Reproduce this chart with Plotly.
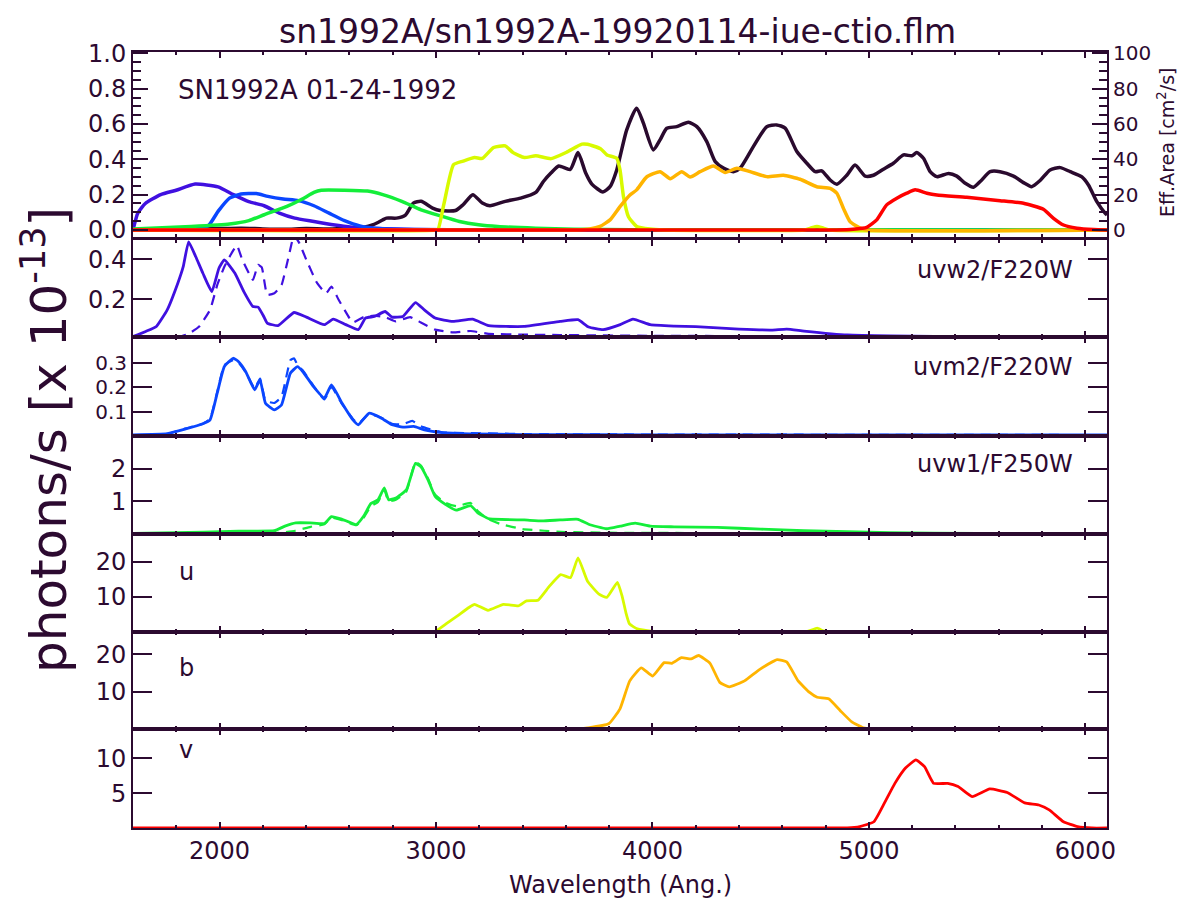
import plotly.graph_objects as go

# ---------------- data ----------------
# top panel: spectrum (scaled flux, left axis) and effective areas (cm^2, right axis)
spec_wl = [1600, 1700, 1800, 1900, 2000, 2100, 2200, 2300, 2400, 2500, 2600, 2666, 2710, 2754, 2771, 2817,
           2860, 2895, 2931, 2984, 3019, 3090, 3125, 3170, 3214, 3249, 3320, 3391, 3461, 3497, 3532, 3567,
           3620, 3656, 3691, 3720, 3771, 3804, 3835, 3881, 3927, 3958, 4004, 4035, 4066, 4112, 4166, 4205,
           4251, 4290, 4328, 4374, 4405, 4466, 4528, 4574, 4613, 4667, 4713, 4752, 4782, 4821, 4852, 4898,
           4936, 4983, 5021, 5067, 5113, 5160, 5198, 5221, 5252, 5283, 5314, 5368, 5406, 5445, 5483, 5514,
           5560, 5606, 5668, 5714, 5752, 5791, 5837, 5884, 5930, 5984, 6015, 6053, 6092, 6100]
spec_flux = [0.0, 0.002, 0.004, 0.006, 0.008, 0.01, 0.006, 0.004, 0.008, 0.006, 0.01, 0.015, 0.03, 0.057, 0.067,
             0.067, 0.086, 0.152, 0.162, 0.124, 0.11, 0.11, 0.143, 0.2, 0.152, 0.137, 0.162, 0.18, 0.213, 0.276,
             0.324, 0.362, 0.343, 0.438, 0.324, 0.26, 0.215, 0.245, 0.34, 0.567, 0.69, 0.605, 0.453, 0.51, 0.576,
             0.585, 0.61, 0.585, 0.50, 0.387, 0.35, 0.33, 0.35, 0.472, 0.585, 0.595, 0.577, 0.444, 0.378, 0.33,
             0.335, 0.283, 0.259, 0.31, 0.368, 0.305, 0.31, 0.344, 0.378, 0.425, 0.42, 0.438, 0.406, 0.33, 0.302,
             0.32, 0.305, 0.264, 0.242, 0.274, 0.33, 0.33, 0.305, 0.268, 0.245, 0.28, 0.34, 0.353, 0.33, 0.30,
             0.253, 0.16, 0.094, 0.085]

ea_uvw2_wl = [1600, 1622, 1657, 1728, 1799, 1887, 1993, 2064, 2135, 2206, 2276, 2347, 2436, 2524, 2612, 2718, 2900, 3200, 6100]
ea_uvw2 = [0, 9.5, 15, 20, 22.5, 26, 24.4, 20, 16, 13.7, 9.5, 6.7, 4.8, 2.9, 1.5, 0.8, 0.3, 0.1, 0]
ea_uvm2_wl = [1600, 1800, 1905, 1949, 1993, 2046, 2099, 2170, 2223, 2294, 2364, 2436, 2506, 2577, 2648, 2718, 2850, 3100, 6100]
ea_uvm2 = [0, 0.2, 1, 2.5, 10.5, 18, 20.4, 20.6, 19, 17.5, 16.6, 13.7, 9.5, 5.3, 2.3, 1.0, 0.3, 0, 0]
ea_uvw1_wl = [1600, 1869, 2046, 2135, 2206, 2311, 2382, 2436, 2470, 2577, 2683, 2754, 2842, 2931, 3019, 3108, 3197, 3285, 3461, 3638, 3900, 6100]
ea_uvw1 = [0.5, 2, 3.4, 5.3, 8.6, 13.3, 17.5, 21.3, 22.5, 22.5, 22, 20, 16.2, 11.4, 8, 4.8, 2.9, 1.9, 1.0, 0.4, 0.1, 0]
ea_u_wl = [1600, 3000, 3010, 3037, 3081, 3125, 3178, 3214, 3266, 3320, 3356, 3408, 3461, 3532, 3603, 3674, 3700, 3760,
           3790, 3835, 3850, 3866, 3889, 3927, 3989, 4050, 4700, 4730, 4760, 4790, 4820, 6100]
ea_u = [0, 0, 0.5, 15, 37, 39, 41, 40.5, 46.7, 47.6, 43.8, 41, 42, 40.4, 44, 48.6, 48.5, 46, 42.5, 40.6, 34, 19,
        7.5, 2, 0.5, 0, 0, 1, 2, 1, 0, 0]
ea_b_wl = [1600, 3650, 3710, 3758, 3804, 3850, 3896, 3927, 3973, 4035, 4082, 4135, 4174, 4220, 4282, 4336, 4390, 4451,
           4528, 4605, 4682, 4759, 4821, 4852, 4882, 4913, 4960, 4990, 6100]
ea_b = [0, 0, 0.5, 2, 5.7, 13.2, 19.8, 22.7, 30, 33, 29, 33, 30, 33, 36.2, 32.5, 35, 33, 30.2, 31, 28.7, 24.5, 23.6,
        20.8, 12.3, 4.7, 1, 0, 0]
ea_v_wl = [1600, 4850, 4928, 4990, 5036, 5082, 5129, 5175, 5214, 5268, 5314, 5452, 5606, 5714, 5806, 5853, 5899, 5961, 6038, 6100]
ea_v = [0, 0, 0.4, 1.5, 5.7, 14.2, 18, 20.8, 22.7, 20.8, 19.8, 18.5, 16.6, 15.1, 11.7, 6.6, 2.8, 1, 0.2, 0]

# photon rates per filter [x 1e-13] : solid = observed spectrum, dashed = comparison
uvw2_wl = [1600, 1659, 1708, 1758, 1807, 1832, 1857, 1890, 1923, 1964, 1997, 2022, 2071, 2112, 2154, 2178, 2204,
           2220, 2270, 2344, 2401, 2484, 2525, 2583, 2641, 2674, 2715, 2765, 2797, 2847, 2905, 2946, 2996, 3078,
           3169, 3243, 3408, 3573, 3656, 3705, 3772, 3851, 3910, 3990, 4100, 4200, 4400, 4550, 4620, 4700, 4900,
           5100, 5500, 6100]
uvw2_rate = [0.013, 0.038, 0.063, 0.146, 0.28, 0.363, 0.488, 0.413, 0.33, 0.238, 0.355, 0.397, 0.33, 0.238, 0.163,
             0.16, 0.113, 0.08, 0.067, 0.133, 0.11, 0.072, 0.10, 0.072, 0.047, 0.105, 0.113, 0.138, 0.11, 0.113,
             0.183, 0.146, 0.105, 0.088, 0.10, 0.067, 0.063, 0.088, 0.097, 0.06, 0.047, 0.072, 0.10, 0.072, 0.065,
             0.062, 0.05, 0.045, 0.05, 0.04, 0.02, 0.015, 0.012, 0.01]
uvw2_cmp_wl = [1800, 1857, 1906, 1956, 1989, 2022, 2055, 2080, 2104, 2154, 2178, 2195, 2220, 2253, 2286, 2319, 2344,
               2369, 2401, 2451, 2492, 2517, 2550, 2600, 2616, 2666, 2715, 2765, 2814, 2880, 2930, 2996, 3078, 3160,
               3243, 3408, 3573, 3738, 4000, 5000, 6100]
uvw2_cmp = [0.005, 0.026, 0.063, 0.146, 0.27, 0.363, 0.43, 0.47, 0.40, 0.297, 0.372, 0.36, 0.222, 0.23, 0.27, 0.413,
            0.52, 0.48, 0.397, 0.28, 0.23, 0.263, 0.197, 0.105, 0.083, 0.11, 0.117, 0.11, 0.088, 0.11, 0.083, 0.047,
            0.033, 0.04, 0.026, 0.022, 0.02, 0.018, 0.016, 0.013, 0.012]

uvm2_wl = [1600, 1758, 1840, 1923, 1956, 1989, 2022, 2063, 2088, 2121, 2162, 2187, 2212, 2253, 2286, 2327, 2360, 2385,
           2434, 2484, 2517, 2566, 2616, 2641, 2690, 2748, 2797, 2847, 2897, 2946, 3028, 3160, 3408, 4000, 6100]
uvm2_rate = [0.005, 0.01, 0.028, 0.05, 0.066, 0.175, 0.284, 0.318, 0.304, 0.263, 0.189, 0.23, 0.134, 0.107, 0.127,
             0.257, 0.284, 0.263, 0.202, 0.155, 0.209, 0.134, 0.066, 0.046, 0.093, 0.073, 0.046, 0.036, 0.039, 0.025,
             0.014, 0.009, 0.006, 0.005, 0.004]
uvm2_cmp_wl = [1600, 1758, 1840, 1923, 1956, 1989, 2022, 2063, 2088, 2121, 2162, 2187, 2212, 2253, 2286, 2327, 2344,
               2360, 2385, 2434, 2484, 2517, 2566, 2616, 2641, 2690, 2748, 2797, 2847, 2890, 2930, 3028, 3160, 3408,
               4000, 6100]
uvm2_cmp = [0.003, 0.008, 0.03, 0.05, 0.07, 0.18, 0.29, 0.31, 0.30, 0.26, 0.195, 0.235, 0.145, 0.135, 0.16, 0.31,
            0.318, 0.29, 0.268, 0.205, 0.15, 0.2, 0.13, 0.07, 0.05, 0.09, 0.075, 0.05, 0.048, 0.062, 0.04, 0.015,
            0.012, 0.008, 0.006, 0.004]

uvw1_wl = [1600, 1923, 2088, 2253, 2302, 2352, 2418, 2484, 2517, 2566, 2632, 2666, 2699, 2732, 2761, 2781, 2814, 2863,
           2905, 2930, 2963, 2996, 3045, 3094, 3160, 3193, 3243, 3408, 3490, 3573, 3656, 3705, 3788, 3851, 3920, 3990,
           4100, 4300, 4500, 4700, 4900, 5100, 5500, 6100]
uvw1_rate = [0.02, 0.06, 0.09, 0.10, 0.24, 0.34, 0.34, 0.32, 0.53, 0.45, 0.29, 0.55, 0.93, 1.05, 1.41, 1.05, 1.1,
             1.35, 2.16, 2.06, 1.66, 1.15, 0.9, 0.73, 0.87, 0.65, 0.47, 0.43, 0.40, 0.43, 0.45, 0.30, 0.16, 0.24,
             0.33, 0.24, 0.22, 0.2, 0.15, 0.1, 0.07, 0.04, 0.02, 0.01]
uvw1_cmp_wl = [1600, 2250, 2350, 2420, 2484, 2517, 2566, 2632, 2666, 2699, 2732, 2761, 2781, 2814, 2863, 2905, 2930,
               2963, 2996, 3045, 3094, 3160, 3193, 3243, 3300, 3400, 3500, 3600, 3800, 4200, 5000, 6100]
uvw1_cmp = [0.0, 0.02, 0.1, 0.22, 0.30, 0.5, 0.42, 0.27, 0.5, 0.85, 0.98, 1.35, 1.0, 1.05, 1.3, 2.2, 2.1, 1.7, 1.2,
            0.95, 0.85, 0.95, 0.7, 0.45, 0.3, 0.15, 0.1, 0.06, 0.04, 0.03, 0.02, 0.01]

u_wl = [1600, 2990, 3002, 3046, 3099, 3152, 3178, 3240, 3311, 3382, 3418, 3471, 3524, 3576, 3621, 3656, 3700, 3753,
        3789, 3838, 3860, 3877, 3894, 3930, 4003, 4050, 4700, 4724, 4761, 4790, 4820, 6100]
u_rate = [0, 0, 0.3, 2.3, 4.6, 7.0, 7.9, 6.2, 7.9, 7.5, 8.9, 9.1, 13.1, 16.4, 15.5, 21.2, 14.5, 10.8, 9.9, 14.2,
          10.2, 5.6, 2.3, 0.9, 0.2, 0, 0, 0.3, 1.1, 0.3, 0, 0]

b_wl = [1600, 3650, 3700, 3798, 3850, 3895, 3948, 4001, 4054, 4089, 4134, 4178, 4213, 4266, 4311, 4355, 4425, 4496,
        4576, 4620, 4673, 4726, 4761, 4814, 4868, 4921, 4974, 5010, 6100]
b_rate = [0, 0, 0.3, 1.4, 5.4, 12.9, 16.4, 14.2, 17.8, 17.6, 19.1, 18.8, 19.7, 17.6, 12.5, 11.3, 12.9, 16, 18.6,
          18.0, 12.9, 9.8, 8.5, 8.1, 4.9, 1.9, 0.3, 0, 0]

v_wl = [1600, 4900, 4958, 5023, 5072, 5120, 5169, 5217, 5257, 5299, 5364, 5412, 5477, 5558, 5639, 5720, 5785, 5833,
        5899, 5964, 6030, 6100]
v_rate = [0, 0, 0.2, 0.9, 3.6, 6.4, 8.6, 9.76, 8.8, 6.4, 6.4, 5.94, 4.5, 5.6, 5.1, 3.6, 3.3, 2.6, 0.9, 0.2, 0, 0]

panel_labels = ["uvw2/F220W", "uvm2/F220W", "uvw1/F250W", "u", "b", "v"]
x_ticks = [2000, 3000, 4000, 5000, 6000]

# ---------------- style ----------------
W, H = 1184, 905
INK = "#2c0a30"
FONT = "DejaVu Sans"
C_SPEC = "#2a0a2e"
C_UVW2 = "#4010e0"
C_UVM2 = "#0a46ff"
C_UVW1 = "#14ee3a"
C_U = "#d8fa00"
C_B = "#ffb400"
C_V = "#ff0000"

X0, X1 = 133 / W, 1107 / W
rows_px = [(52, 237), (240, 337), (337, 436), (436, 534), (534, 632), (632, 729), (729, 828)]
y_ranges = [[-0.04, 1.008], [0.01, 0.497], [0.0, 0.405], [0.0, 3.0], [0.0, 28.0], [0.0, 26.0], [0.0, 14.2]]
y_ticks = [[0.0, 0.2, 0.4, 0.6, 0.8, 1.0], [0.2, 0.4], [0.1, 0.2, 0.3], [1, 2], [10, 20], [10, 20], [5, 10]]
y_text = [["0.0", "0.2", "0.4", "0.6", "0.8", "1.0"], ["0.2", "0.4"], ["0.1", "0.2", "0.3"], ["1", "2"],
          ["10", "20"], ["10", "20"], ["5", "10"]]
y_font = [24, 24, 20, 24, 24, 24, 24]


def dom(top, bot):
    return [(H - bot) / H, (H - top) / H]


fig = go.Figure()

# top panel
fig.add_trace(go.Scatter(x=spec_wl, y=spec_flux, mode="lines", xaxis="x", yaxis="y",
                         line=dict(color=C_SPEC, width=3.5, shape="spline", smoothing=0.6), showlegend=False))
for wl, ea, c in [(ea_uvw2_wl, ea_uvw2, C_UVW2), (ea_uvm2_wl, ea_uvm2, C_UVM2), (ea_uvw1_wl, ea_uvw1, C_UVW1),
                  (ea_u_wl, ea_u, C_U), (ea_b_wl, ea_b, C_B), (ea_v_wl, ea_v, C_V)]:
    fig.add_trace(go.Scatter(x=wl, y=ea, mode="lines", xaxis="x", yaxis="y8",
                             line=dict(color=c, width=3.5, shape="spline", smoothing=0.5), showlegend=False))

# filter panels
panel_series = [
    (2, uvw2_wl, uvw2_rate, uvw2_cmp_wl, uvw2_cmp, C_UVW2),
    (3, uvm2_wl, uvm2_rate, uvm2_cmp_wl, uvm2_cmp, C_UVM2),
    (4, uvw1_wl, uvw1_rate, uvw1_cmp_wl, uvw1_cmp, C_UVW1),
    (5, u_wl, u_rate, None, None, C_U),
    (6, b_wl, b_rate, None, None, C_B),
    (7, v_wl, v_rate, None, None, C_V),
]
for i, wl, r, cwl, cr, c in panel_series:
    if cwl is not None:
        fig.add_trace(go.Scatter(x=cwl, y=cr, mode="lines", xaxis=f"x{i}", yaxis=f"y{i}",
                                 line=dict(color=c, width=2.2, dash="10px,7px", shape="spline", smoothing=0.4),
                                 showlegend=False))
    fig.add_trace(go.Scatter(x=wl, y=r, mode="lines", xaxis=f"x{i}", yaxis=f"y{i}",
                             line=dict(color=c, width=2.8, shape="spline", smoothing=0.4), showlegend=False))

layout = dict(width=W, height=H, margin=dict(l=0, r=0, t=0, b=0, autoexpand=False),
              paper_bgcolor="white", plot_bgcolor="white",
              font=dict(family=FONT, color=INK, size=20), showlegend=False)

for k in range(7):
    i = k + 1
    xs = "xaxis" if i == 1 else f"xaxis{i}"
    ys = "yaxis" if i == 1 else f"yaxis{i}"
    top, bot = rows_px[k]
    layout[xs] = dict(domain=[X0, X1], anchor="y" if i == 1 else f"y{i}", range=[1600, 6100],
                      showline=True, linecolor=INK, linewidth=2, mirror="ticks",
                      ticks="inside", ticklen=6, tickwidth=1.5, tickcolor=INK,
                      tickvals=x_ticks, showticklabels=(i == 7), showgrid=False, zeroline=False,
                      tickfont=dict(family=FONT, size=24, color=INK),
                      minor=dict(dtick=200, ticklen=3, tickcolor=INK, ticks="inside", showgrid=False))
    if i > 1:
        layout[xs]["matches"] = "x"
    yd = dict(domain=dom(top, bot), anchor="x" if i == 1 else f"x{i}", range=y_ranges[k],
              showline=True, linecolor=INK, linewidth=2,
              ticks="inside", ticklen=19, tickwidth=2, tickcolor=INK,
              tickvals=y_ticks[k], ticktext=y_text[k], showgrid=False, zeroline=False,
              tickfont=dict(family=FONT, size=y_font[k], color=INK))
    if i == 1:
        yd["mirror"] = False
        yd["ticklen"] = 15
        yd["minor"] = dict(dtick=0.05, ticklen=8, tickcolor=INK, ticks="inside", tick0=0)
    else:
        yd["mirror"] = "ticks"
    layout[ys] = yd

layout["yaxis8"] = dict(overlaying="y", side="right", anchor="x", range=[-4, 100.8],
                        showline=True, linecolor=INK, linewidth=2,
                        ticks="inside", ticklen=15, tickwidth=2, tickcolor=INK,
                        tickvals=[0, 20, 40, 60, 80, 100], showgrid=False, zeroline=False,
                        tickfont=dict(family=FONT, size=20, color=INK),
                        minor=dict(dtick=5, tick0=0, ticklen=8, tickcolor=INK, ticks="inside"))

ann = []


def A(text, xp, yp, size, xanchor="center", yanchor="middle", angle=0):
    ann.append(dict(text=text, x=xp / W, y=(H - yp) / H, xref="paper", yref="paper", showarrow=False,
                    xanchor=xanchor, yanchor=yanchor, textangle=angle,
                    font=dict(family=FONT, size=size, color=INK)))


A("sn1992A/sn1992A-19920114-iue-ctio.flm", 617, 32, 33)
A("SN1992A 01-24-1992", 176, 90, 26, xanchor="left")
A("Eff.Area [cm<sup>2</sup>/s]", 1166, 143, 19, angle=-90)
A("photons/s [x 10<sup>-13</sup>]", 45, 440, 50, angle=-90)
A("Wavelength (Ang.)", 620, 885, 24)
label_pos = [(1075, 270, "right"), (1075, 367, "right"), (1075, 464, "right"),
             (177, 572, "left"), (177, 668, "left"), (177, 750, "left")]
for txt, (xp, yp, anc) in zip(panel_labels, label_pos):
    A(txt, xp, yp, 24, xanchor=anc)

layout["annotations"] = ann
fig.update_layout(**layout)
fig.write_html("out.html", config={"displayModeBar": False},
               post_script="document.body.style.margin='0';document.body.style.overflow='hidden';")
